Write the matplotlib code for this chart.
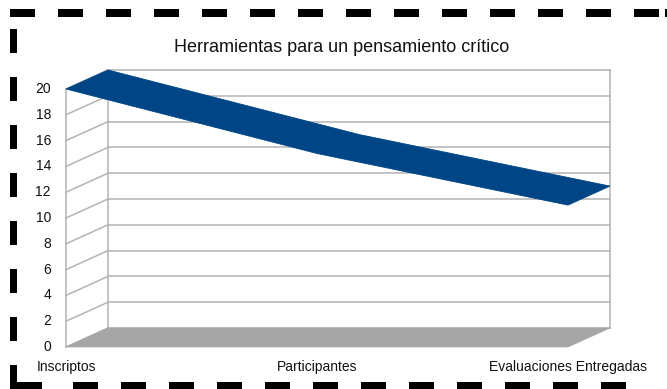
import matplotlib
matplotlib.use("Agg")
import matplotlib.pyplot as plt
from matplotlib.patches import Polygon, Rectangle

# Data
categories = ["Inscriptos", "Participantes", "Evaluaciones Entregadas"]
values = [20, 15, 11]
yticks = list(range(0, 21, 2))
title = "Herramientas para un pensamiento crítico"

W, H = 667, 389
fig = plt.figure(figsize=(W / 100, H / 100), dpi=100)
fig.patch.set_facecolor("white")
plt.rcParams["font.family"] = ["Liberation Sans", "DejaVu Sans"]

# Front plane of the 3D box (pixels): x 66..568, y 347 (0) .. 89 (20)
x0, x1, yb, yt = 66, 568, 347, 89
ax = fig.add_axes([x0 / W, (H - yb) / H, (x1 - x0) / W, (yb - yt) / H])
ax.set_xlim(0, len(categories) - 1)
ax.set_ylim(0, 20)
ax.axis("off")

# Oblique depth offset in data units
px_per_x = (x1 - x0) / (len(categories) - 1)
px_per_y = (yb - yt) / 20
DX = 42 / px_per_x
DY = 19 / px_per_y

grid_c = "#b3b3b3"
lw = 1.1
n = len(categories) - 1

# Back wall grid lines
for v in yticks:
    ax.plot([DX, n + DX], [v + DY, v + DY], color=grid_c, lw=lw, clip_on=False, zorder=1)
    # side wall lines
    ax.plot([0, DX], [v, v + DY], color=grid_c, lw=lw, clip_on=False, zorder=1)
# back wall verticals
for xv in (DX, n + DX):
    ax.plot([xv, xv], [DY, 20 + DY], color=grid_c, lw=lw, clip_on=False, zorder=1)
# front axis line
ax.plot([0, 0], [0, 20], color=grid_c, lw=lw, clip_on=False, zorder=1)

# Floor
floor = Polygon([(0, 0), (n, 0), (n + DX, DY), (DX, DY)], closed=True,
                facecolor="#a6a6a6", edgecolor="#a6a6a6", lw=0.5, clip_on=False, zorder=2)
ax.add_patch(floor)

# Ribbon line
blue = "#004586"
for i in range(n):
    quad = [(i, values[i]), (i + 1, values[i + 1]),
            (i + 1 + DX, values[i + 1] + DY), (i + DX, values[i] + DY)]
    ax.add_patch(Polygon(quad, closed=True, facecolor=blue, edgecolor=blue,
                         lw=0.6, clip_on=False, zorder=3))

# Y tick labels
for v in yticks:
    ax.annotate(str(v), (0, v), xytext=(-15, 0), textcoords="offset pixels",
                ha="right", va="center", fontsize=10, color="#111111")

# Category labels
for i, c in enumerate(categories):
    ax.annotate(c, (i, 0), xytext=(0, -20), textcoords="offset pixels",
                ha="center", va="center", fontsize=10, color="#111111")

fig.text(342 / W, 1 - 47 / H, title, ha="center", va="center", fontsize=13, color="#111111")

# Dashed frame
def dash(x, y, w, h):
    fig.add_artist(Rectangle((x / W, 1 - (y + h) / H), w / W, h / H,
                             transform=fig.transFigure, facecolor="black",
                             edgecolor="none"))

for k in range(14):
    dash(10 + 48 * k, 9, 25, 8)
dash(665, 9, 3, 8)
for k in range(8):
    dash(10, 29 + 48 * k, 7, 24)
dash(17, 382, 25, 8)
for k in range(12):
    dash(73 + 48 * k, 382, 25, 8)

fig.savefig("out.png", dpi=100, facecolor="white")
